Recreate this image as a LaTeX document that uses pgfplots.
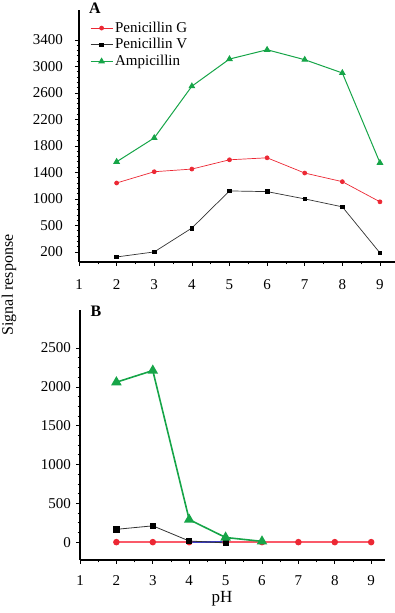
\documentclass[border=0pt]{standalone}
\usepackage{fontspec}
\setmainfont{Liberation Serif}
\usepackage{pgfplots}
\pgfplotsset{compat=1.18}
\definecolor{cred}{RGB}{236,40,52}
\definecolor{cpink}{RGB}{250,90,105}
\definecolor{cgreen}{RGB}{22,165,72}
\definecolor{cblue}{RGB}{60,60,200}
\newcommand{\lf}{\fontsize{15}{17}\selectfont}
\pgfplotsset{
  common/.style={
    scale only axis,
    axis x line=bottom, axis y line=left,
    axis line style={-, line width=1.6pt},
    tick style={black, line width=0.6pt},
    major tick length=4pt, minor tick length=2.5pt,
    tick align=outside,
    xtick={1,...,9}, minor x tick num=1,
    /pgf/number format/assume math mode=true,
    /pgf/number format/1000 sep={},
    tick label style={font=\lf},
    xticklabel style={yshift=-8pt},
    clip=false,
  },
}
\begin{document}
\lf
\begin{tikzpicture}[font=\lf]
\useasboundingbox (0pt,0pt) rectangle (395pt,613pt);
% ---------- Panel A ----------
\begin{axis}[common,
  at={(79pt,351pt)}, anchor=south west,
  width=316pt, height=252pt,
  xmin=1, xmax=9.4,
  ymin=0, ymax=3850,
  y coord trafo/.code={\pgfmathparse{(#1<200) ? (0.62+0.0019*#1) : ((#1<500) ? (1+(#1-200)/300) : ((#1<1000) ? (2+(#1-500)/500) : (3+(#1-1000)/400)))}},
  ytick={200,500,1000,1400,1800,2200,2600,3000,3400},
  yticklabels={200,500,1000,1400,1800,2200,2600,3000,3400},
  yticklabel style={xshift=-7pt},
  minor y tick num=4,
  legend style={at={(0.025,0.97)}, anchor=north west, draw=none, fill=none,
    font=\lf, row sep=0pt},
  legend image code/.code={\draw[mark repeat=2,mark phase=2,#1] plot coordinates {(0pt,0pt) (11pt,0pt) (22pt,0pt)};},
  legend cell align=left,
]
\addplot[cred, line width=0.7pt, mark=*, mark size=2pt] coordinates {
(2,1240)(3,1410)(4,1450)(5,1590)(6,1620)(7,1390)(8,1260)(9,945)};
\addlegendentry{\lf Penicillin G}
\addplot[black!80, line width=0.7pt, mark=square*, mark size=1.8pt, mark options={black}] coordinates {
(2,100)(3,200)(4,470)(5,1120)(6,1110)(7,1000)(8,850)(9,180)};
\addlegendentry{\lf Penicillin V}
\addplot[cgreen, line width=1pt, mark=triangle*, mark size=3pt] coordinates {
(2,1560)(3,1920)(4,2700)(5,3110)(6,3250)(7,3100)(8,2900)(9,1545)};
\addlegendentry{\lf Ampicillin}
\end{axis}
% ---------- Panel B ----------
\begin{axis}[common,
  at={(80pt,53pt)}, anchor=south west,
  width=305pt, height=250pt,
  xmin=1, xmax=9.38,
  ymin=-230, ymax=2990,
  ytick={0,500,1000,1500,2000,2500},
  minor y tick num=3,
  xticklabel style={yshift=2pt},
]
\addplot[cpink, line width=1.3pt, mark=*, mark size=2.6pt, mark options={cred}] coordinates {
(2,0)(3,0)(4,0)(5,0)(6,0)(7,0)(8,0)(9,0)};
\addplot[cblue, line width=1.3pt] coordinates {(4,0)(5,0)};
\addplot[black!80, line width=0.8pt, mark=square*, mark size=2.6pt, mark options={black}] coordinates {
(2,165)(3,210)(4,15)(5,-10)};
\addplot[cgreen, line width=1.6pt, mark=triangle*, mark size=4.5pt] coordinates {
(2,2060)(3,2210)(4,290)(5,60)(6,10)};
\end{axis}
% ---------- Labels ----------
\node[font=\fontsize{16}{18}\selectfont\bfseries] at (95pt,605pt) {A};
\node[font=\fontsize{16}{18}\selectfont\bfseries] at (96pt,302pt) {B};
\node[rotate=90, font=\fontsize{16}{18}\selectfont] at (9pt,328pt) {Signal response};
\node[font=\fontsize{17}{19}\selectfont] at (222pt,14pt) {pH};
\end{tikzpicture}
\end{document}
